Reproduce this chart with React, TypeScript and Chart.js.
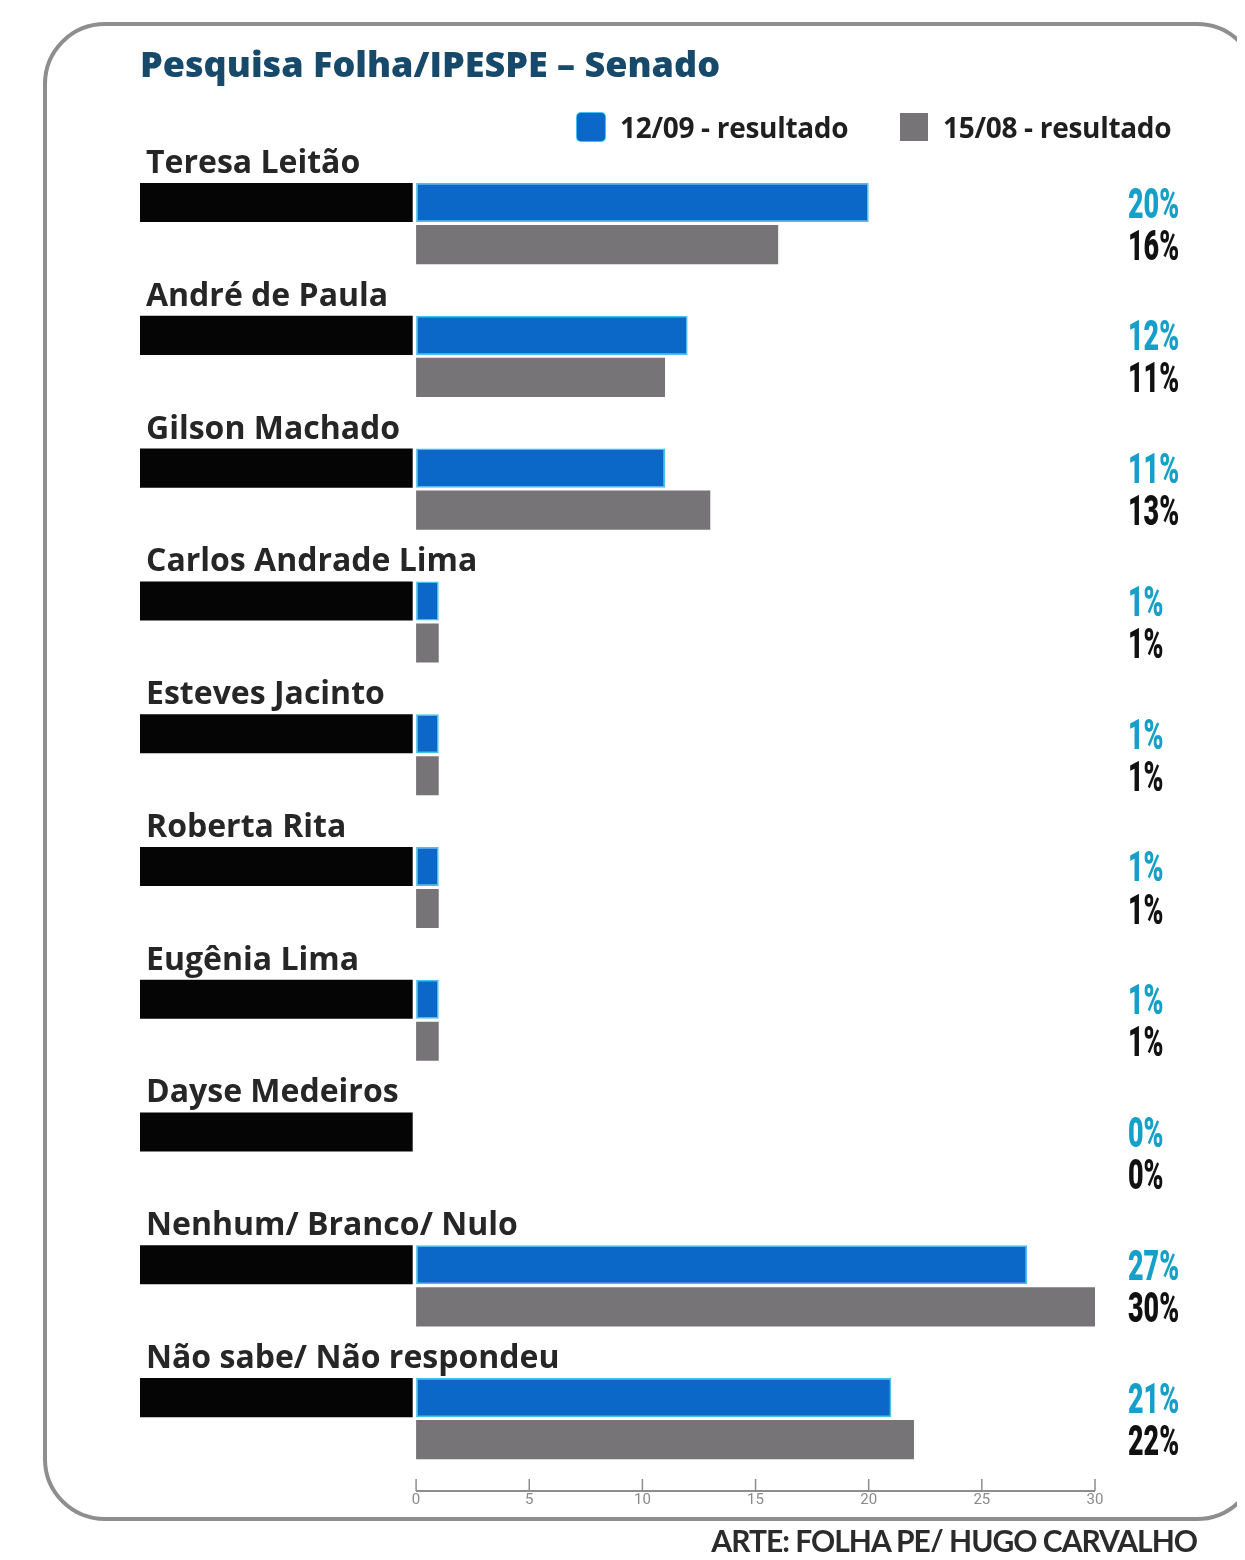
import React, { useEffect, useRef } from "react";
import { Chart, registerables } from "chart.js";

Chart.register(...registerables);

// ---------- data ----------
const chartTitle = "Pesquisa Folha/IPESPE – Senado";
const creditText = "ARTE: FOLHA PE/ HUGO CARVALHO";

const categories = [
  "Teresa Leitão",
  "André de Paula",
  "Gilson Machado",
  "Carlos Andrade Lima",
  "Esteves Jacinto",
  "Roberta Rita",
  "Eugênia Lima",
  "Dayse Medeiros",
  "Nenhum/ Branco/ Nulo",
  "Não sabe/ Não respondeu",
];

const seriesLabels = ["12/09 - resultado", "15/08 - resultado"];

const result1209 = [20, 12, 11, 1, 1, 1, 1, 0, 27, 21];
const result1508 = [16, 11, 13, 1, 1, 1, 1, 0, 30, 22];

// black name band drawn to the left of zero (decorative, in axis units)
const nameBand: [number, number][] = [
  [-12.2, -0.15],
  [-12.2, -0.15],
  [-12.2, -0.15],
  [-12.2, -0.15],
  [-12.2, -0.15],
  [-12.2, -0.15],
  [-12.2, -0.15],
  [-12.2, -0.15],
  [-12.2, -0.15],
  [-12.2, -0.15],
];

const xTicks = [0, 5, 10, 15, 20, 25, 30];
const xMin = -12.2;
const xMax = 30;

// ---------- styles ----------
const BLUE = "#0b68c8";
const BLUE_EDGE = "#3fc4ec";
const GRAY = "#767476";
const BLACK = "#050505";
const TEAL_TEXT = "#14a0c8";
const TITLE_COLOR = "#17496b";

const textPlugin = {
  id: "textPlugin",
  afterDatasetsDraw(chart: any) {
    const ctx = chart.ctx as CanvasRenderingContext2D;
    const area = chart.chartArea;
    const blueMeta = chart.getDatasetMeta(0);
    const grayMeta = chart.getDatasetMeta(1);
    const bandMeta = chart.getDatasetMeta(2);
    ctx.save();
    // category names above the bars
    ctx.font = 'bold 32px "Open Sans"';
    ctx.fillStyle = "#262626";
    ctx.textAlign = "left";
    ctx.textBaseline = "alphabetic";
    categories.forEach((name, i) => {
      const el = bandMeta.data[i];
      const { y, height } = el.getProps(["y", "height"], true);
      ctx.fillText(name, area.left + 6, y - height / 2 - 10);
    });
    // percentage labels on the right
    const px = area.right + 33;
    const drawPct = (text: string, y: number, color: string) => {
      ctx.save();
      ctx.translate(px, y + 15);
      ctx.scale(0.64, 1);
      ctx.font = "900 42px Roboto";
      ctx.fillStyle = color;
      ctx.fillText(text, 0, 0);
      ctx.restore();
    };
    categories.forEach((_, i) => {
      const b = blueMeta.data[i].getProps(["y"], true);
      const g = grayMeta.data[i].getProps(["y"], true);
      drawPct(result1209[i] + "%", b.y, TEAL_TEXT);
      drawPct(result1508[i] + "%", g.y, "#111111");
    });
    ctx.restore();
  },
  afterDraw(chart: any) {
    const ctx = chart.ctx as CanvasRenderingContext2D;
    const xs = chart.scales.x;
    const y = chart.chartArea.bottom + 6;
    ctx.save();
    ctx.strokeStyle = "#8d8d8d";
    ctx.lineWidth = 2;
    ctx.beginPath();
    ctx.moveTo(xs.getPixelForValue(xTicks[0]), y);
    ctx.lineTo(xs.getPixelForValue(xTicks[xTicks.length - 1]), y);
    ctx.stroke();
    ctx.lineWidth = 1.5;
    xTicks.forEach((v) => {
      const p = xs.getPixelForValue(v);
      ctx.beginPath();
      ctx.moveTo(p, y);
      ctx.lineTo(p, y - 12);
      ctx.stroke();
    });
    ctx.restore();
  },
};

export default function App() {
  const canvasRef = useRef<HTMLCanvasElement | null>(null);

  useEffect(() => {
    document.documentElement.style.overflow = "hidden";
    document.body.style.overflow = "hidden";
    if (!canvasRef.current) return;
    const chart = new Chart(canvasRef.current, {
      type: "bar",
      data: {
        labels: categories,
        datasets: [
          {
            label: seriesLabels[0],
            data: result1209,
            stack: "a",
            backgroundColor: BLUE,
            borderColor: BLUE_EDGE,
            borderWidth: 1.5,
            borderSkipped: false,
            categoryPercentage: 0.633,
            barPercentage: 0.93,
          },
          {
            label: seriesLabels[1],
            data: result1508,
            stack: "b",
            backgroundColor: GRAY,
            borderWidth: 0,
            categoryPercentage: 0.633,
            barPercentage: 0.93,
          },
          {
            label: "",
            data: nameBand as any,
            stack: "a",
            backgroundColor: BLACK,
            borderWidth: 0,
            categoryPercentage: 0.633,
            barPercentage: 0.93,
          },
        ],
      },
      options: {
        responsive: false,
        animation: false,
        devicePixelRatio: 1,
        indexAxis: "y",
        layout: { padding: { left: 132, right: 142, top: 20, bottom: 37 } },
        scales: {
          x: {
            stacked: true,
            min: xMin,
            max: xMax,
            grid: { display: false, drawTicks: false },
            border: { display: false },
            afterBuildTicks: (scale: any) => {
              scale.ticks = xTicks.map((v) => ({ value: v }));
            },
            ticks: {
              font: { family: "Roboto", size: 15 },
              color: "#8a8a8a",
              padding: 6,
              maxRotation: 0,
              autoSkip: false,
            },
          },
          y: { stacked: true, display: false },
        },
        plugins: {
          legend: { display: false },
          tooltip: { enabled: false },
          title: {
            display: true,
            text: chartTitle,
            align: "start",
            color: TITLE_COLOR,
            font: { family: "Open Sans", size: 36, weight: "800" },
            padding: { top: 17, bottom: 69 },
          },
        },
      },
      plugins: [textPlugin],
    } as any);
    return () => chart.destroy();
  }, []);

  const legendText: React.CSSProperties = {
    font: 'bold 28px "Open Sans"',
    color: "#1f1f1f",
    letterSpacing: "-0.3px",
    whiteSpace: "nowrap",
    marginLeft: 15,
  };

  return (
    <div
      style={{
        position: "relative",
        width: 1237,
        height: 1552,
        marginBottom: -8,
        overflow: "hidden",
        fontFamily: "Lato, sans-serif",
        background: "#ffffff",
      }}
    >
      <div
        style={{
          position: "absolute",
          left: 35,
          top: 14,
          width: 1216,
          height: 1499,
          boxSizing: "border-box",
          border: "4px solid #8e8e8e",
          borderRadius: 62,
        }}
      />
      <canvas
        ref={canvasRef}
        width={1229}
        height={1544}
        style={{ position: "absolute", left: 0, top: 0, width: 1229, height: 1544 }}
      />
      <div style={{ position: "absolute", left: 569, top: 105, display: "flex", alignItems: "center", height: 28 }}>
        <div style={{ width: 28, height: 28, background: BLUE, borderRadius: 4, boxShadow: `0 0 0 1px ${BLUE_EDGE}` }} />
        <span style={legendText}>{seriesLabels[0]}</span>
      </div>
      <div style={{ position: "absolute", left: 892, top: 105, display: "flex", alignItems: "center", height: 28 }}>
        <div style={{ width: 28, height: 28, background: GRAY }} />
        <span style={legendText}>{seriesLabels[1]}</span>
      </div>
      <div
        style={{
          position: "absolute",
          right: 48,
          top: 1516,
          font: "bold 30px Lato",
          lineHeight: "32px",
          letterSpacing: "-1px",
          color: "#2b2b2b",
          whiteSpace: "nowrap",
        }}
      >
        {creditText}
      </div>
    </div>
  );
}
